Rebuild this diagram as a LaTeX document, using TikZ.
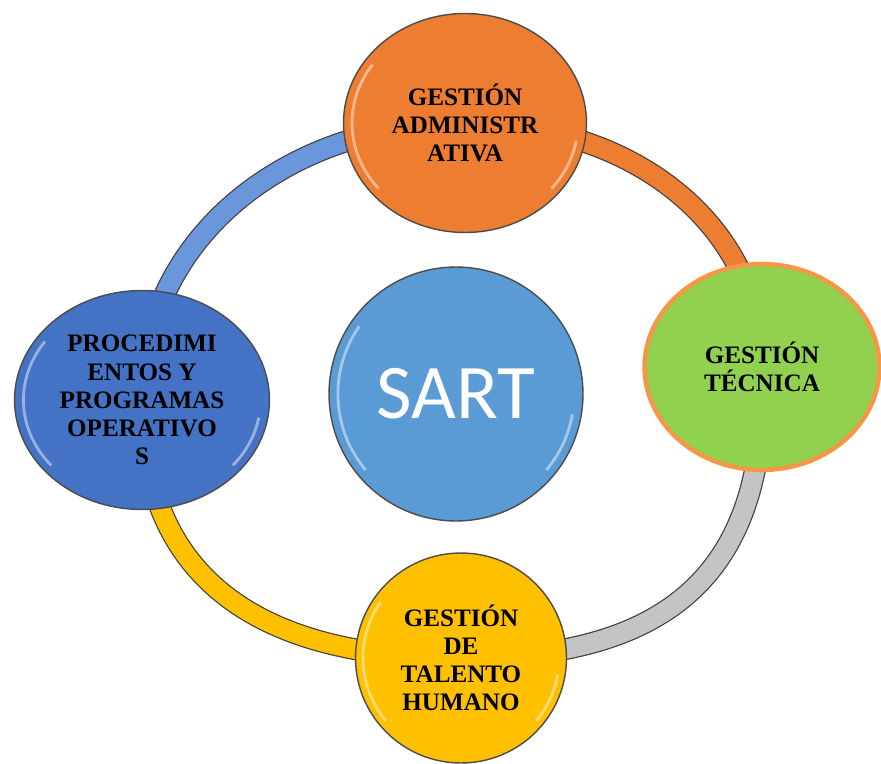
\documentclass[tikz,border=0pt]{standalone}
\usepackage{fontspec}
\setmainfont{Liberation Serif}
\newfontfamily\sartfont{Carlito}
\usetikzlibrary{shapes.geometric,backgrounds}
\definecolor{naranja}{HTML}{ED7D31}
\definecolor{verde}{HTML}{92D050}
\definecolor{bordeverde}{HTML}{F79646}
\definecolor{azul}{HTML}{4472C4}
\definecolor{celeste}{HTML}{5B9BD5}
\definecolor{amarillo}{HTML}{FFC000}
\definecolor{aroazul}{HTML}{6A96DC}
\definecolor{arogris}{HTML}{C4C4C4}
\tikzset{
  bubble/.style={ellipse, draw=black!70, line width=0.8pt, inner sep=0pt, align=center,
    font=\bfseries\fontsize{14.3}{16}\selectfont},
  glossy/.style={path picture={
    \draw[white, opacity=.45, line width=1.6pt]
      let \p1=(path picture bounding box.north east), \p2=(path picture bounding box.center) in
      (\p2) ++(145:{0.93*(\x1-\x2)} and {0.93*(\y1-\y2)})
      arc[start angle=145, end angle=220, x radius={0.93*(\x1-\x2)}, y radius={0.93*(\y1-\y2)}]
      (\p2) ++(-40:{0.93*(\x1-\x2)} and {0.93*(\y1-\y2)})
      arc[start angle=-40, end angle=-10, x radius={0.93*(\x1-\x2)}, y radius={0.93*(\y1-\y2)}];
  }},
  ring/.style={draw=black!75, line width=0.7pt, double=#1, double distance=11pt}
}
\usetikzlibrary{calc}
\begin{document}
\begin{tikzpicture}[x=0.02cm,y=-0.02cm]
  \useasboundingbox (0,0) rectangle (881,763);

  \node[bubble, glossy, fill=celeste, minimum width=5.08cm, minimum height=5.08cm,
    font=\sartfont\fontsize{44}{50}\selectfont, text=white] (sart) at (456,394) {SART};
  \node[bubble, glossy, fill=naranja, minimum width=4.86cm, minimum height=4.38cm] (adm) at (465,123) {GESTIÓN\\ADMINISTR\\ATIVA};
  \node[bubble, fill=verde, draw=bordeverde, line width=2.5pt, minimum width=4.7cm, minimum height=4.12cm] (tec) at (762,367) {GESTIÓN\\TÉCNICA};
  \node[bubble, glossy, fill=amarillo, minimum width=4.22cm, minimum height=4.2cm] (tal) at (461,658) {GESTIÓN\\DE\\TALENTO\\HUMANO};
  \node[bubble, glossy, fill=azul, minimum width=5.1cm, minimum height=4.38cm] (proc) at (142,400) {PROCEDIMI\\ENTOS Y\\PROGRAMAS\\OPERATIVO\\S};

  \begin{pgfonlayer}{background}
    \draw[ring=aroazul] (proc.center) .. controls +(0,-160) and +(-180,0) .. (adm.center);
    \draw[ring=naranja] (adm.center) .. controls +(170,0) and +(0,-140) .. (tec.center);
    \draw[ring=arogris] (tec.center) .. controls +(8,213) and +(200,0) .. (tal.center);
    \draw[ring=amarillo] (tal.center) .. controls +(-200,0) and +(0,180) .. (proc.center);
  \end{pgfonlayer}
\end{tikzpicture}
\end{document}
